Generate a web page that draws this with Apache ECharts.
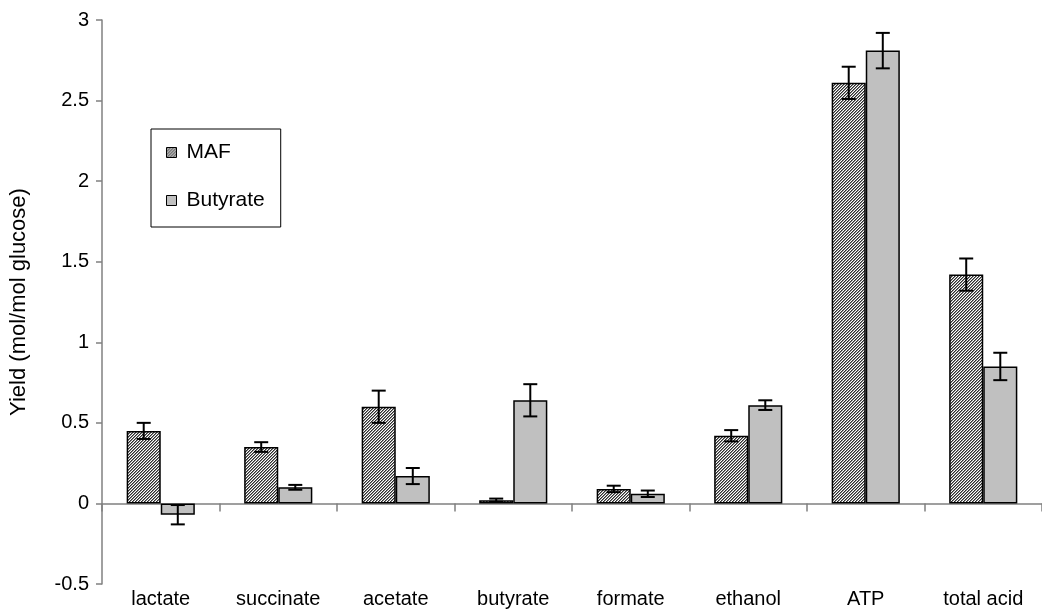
<!DOCTYPE html>
<html>
<head>
<meta charset="utf-8">
<title>Fermentation product yields</title>
<script src="https://cdn.jsdelivr.net/npm/echarts@6/dist/echarts.min.js"></script>
<style>
  html, body { margin: 0; padding: 0; background: #ffffff; }
  #chart { width: 1042px; height: 612px; }
</style>
</head>
<body>
<div id="chart"></div>
<script>
// Product yields per mol glucose, with standard deviations
const categories = ['lactate', 'succinate', 'acetate', 'butyrate', 'formate', 'ethanol', 'ATP', 'total acid'];
const mafValues = [0.45, 0.35, 0.60, 0.02, 0.09, 0.42, 2.61, 1.42];
const mafErrors = [0.05, 0.03, 0.10, 0.01, 0.02, 0.035, 0.10, 0.10];
const butyrateValues = [-0.07, 0.10, 0.17, 0.64, 0.06, 0.61, 2.81, 0.85];
const butyrateErrors = [0.06, 0.015, 0.05, 0.10, 0.02, 0.03, 0.11, 0.085];
const yTicks = { min: -0.5, max: 3, interval: 0.5 };

const FONT = 'Liberation Sans, Arial, Helvetica, sans-serif';
const CATEGORY_GAP = 0.42;

// Fine upward-diagonal hatch used for the MAF bars
function makeHatch() {
  const n = 3;
  const c = document.createElement('canvas');
  c.width = n; c.height = n;
  const ctx = c.getContext('2d');
  const shades = ['#2e2e2e', '#8a8a8a', '#ffffff'];
  for (let x = 0; x < n; x++) {
    for (let y = 0; y < n; y++) {
      ctx.fillStyle = shades[(x + y) % n];
      ctx.fillRect(x, y, 1, 1);
    }
  }
  return c;
}
const hatch = { image: makeHatch(), repeat: 'repeat' };

// Error bars drawn over the grouped bars; side = -1 (left bar) or +1 (right bar)
function errorBarRenderer(side) {
  return function (params, api) {
    const idx = api.value(0);
    const val = api.value(1);
    const err = api.value(2);
    const band = api.size([1, 0])[0];
    const barW = band * (1 - CATEGORY_GAP) / 2;
    const dx = side * barW / 2;
    const hi = api.coord([idx, val + err]);
    const lo = api.coord([idx, val - err]);
    const x = hi[0] + dx;
    const cap = 7;
    const style = { stroke: '#000000', lineWidth: 2 };
    return {
      type: 'group',
      children: [
        { type: 'line', shape: { x1: x, y1: hi[1], x2: x, y2: lo[1] }, style: style },
        { type: 'line', shape: { x1: x - cap, y1: hi[1], x2: x + cap, y2: hi[1] }, style: style },
        { type: 'line', shape: { x1: x - cap, y1: lo[1], x2: x + cap, y2: lo[1] }, style: style }
      ]
    };
  };
}

const chart = echarts.init(document.getElementById('chart'), null, { renderer: 'canvas' });

chart.setOption({
  animation: false,
  backgroundColor: '#ffffff',
  textStyle: { fontFamily: FONT },
  grid: { left: 102, right: 0, top: 20, bottom: 28, containLabel: false },
  legend: {
    orient: 'vertical',
    left: 151,
    top: 129,
    padding: [13, 16, 16, 15],
    itemGap: 27,
    itemWidth: 10,
    itemHeight: 10,
    icon: 'rect',
    borderColor: '#000000',
    borderWidth: 1,
    backgroundColor: '#ffffff',
    itemStyle: { borderColor: '#000000', borderWidth: 1 },
    textStyle: { fontFamily: FONT, fontSize: 21, color: '#000000', lineHeight: 20, padding: [0, 0, 0, 5] },
    data: ['MAF', 'Butyrate']
  },
  xAxis: [
    {
      type: 'category',
      data: categories,
      axisLine: { show: true, onZero: true, lineStyle: { color: '#808080', width: 1.5 } },
      axisTick: { show: true, length: 8, lineStyle: { color: '#808080', width: 1.5 } },
      axisLabel: { show: false },
      splitLine: { show: false }
    },
    {
      type: 'category',
      data: categories,
      position: 'bottom',
      axisLine: { show: false, onZero: false },
      axisTick: { show: false },
      axisLabel: { show: true, color: '#000000', fontSize: 20, fontFamily: FONT, margin: 5, interval: 0 },
      splitLine: { show: false }
    }
  ],
  yAxis: {
    type: 'value',
    min: yTicks.min,
    max: yTicks.max,
    interval: yTicks.interval,
    name: 'Yield (mol/mol glucose)',
    nameLocation: 'middle',
    nameGap: 72,
    nameTextStyle: { color: '#000000', fontSize: 22, fontFamily: FONT },
    axisLine: { show: true, lineStyle: { color: '#808080', width: 1.5 } },
    axisTick: { show: true, length: 6, lineStyle: { color: '#808080', width: 1.5 } },
    axisLabel: { color: '#000000', fontSize: 20, fontFamily: FONT, margin: 13 },
    splitLine: { show: false }
  },
  series: [
    {
      name: 'MAF',
      type: 'bar',
      xAxisIndex: 0,
      data: mafValues,
      barGap: '0%',
      barCategoryGap: (CATEGORY_GAP * 100) + '%',
      itemStyle: { color: hatch, borderColor: '#000000', borderWidth: 1.5 },
      z: 2
    },
    {
      name: 'Butyrate',
      type: 'bar',
      xAxisIndex: 0,
      data: butyrateValues,
      barGap: '0%',
      barCategoryGap: (CATEGORY_GAP * 100) + '%',
      itemStyle: { color: '#c0c0c0', borderColor: '#000000', borderWidth: 1.5 },
      z: 2
    },
    {
      name: 'MAF error',
      type: 'custom',
      xAxisIndex: 0,
      renderItem: errorBarRenderer(-1),
      data: mafValues.map((v, i) => [i, v, mafErrors[i]]),
      encode: { x: 0, y: 1 },
      z: 5,
      silent: true
    },
    {
      name: 'Butyrate error',
      type: 'custom',
      xAxisIndex: 0,
      renderItem: errorBarRenderer(1),
      data: butyrateValues.map((v, i) => [i, v, butyrateErrors[i]]),
      encode: { x: 0, y: 1 },
      z: 5,
      silent: true
    }
  ]
});
</script>
</body>
</html>
